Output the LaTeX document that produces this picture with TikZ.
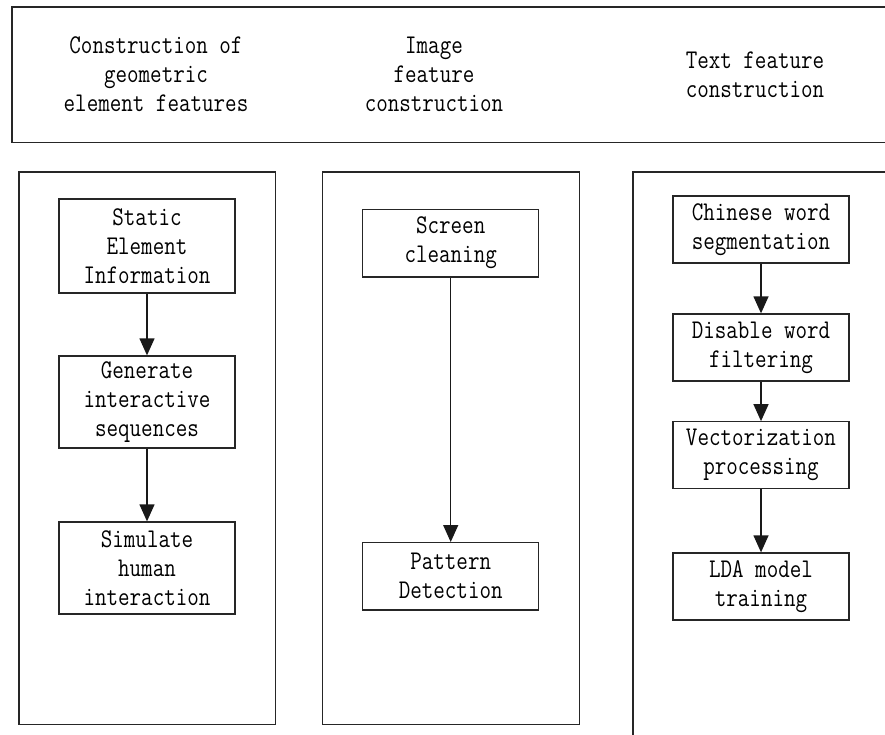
\documentclass[tikz,border=0pt]{standalone}
\usepackage{fontspec}
\newfontfamily\boxfont[FakeStretch=0.83]{Latin Modern Mono}
\usetikzlibrary{arrows.meta}
\begin{document}
\begin{tikzpicture}[x=1pt,y=-1pt,
  every node/.style={font=\boxfont\fontsize{27}{29}\selectfont, align=center, inner sep=0pt},
  frame/.style={line width=1.3pt, draw=black!85},
  stepbox/.style={draw=black!85, line width=1.3pt, minimum width=176pt, inner sep=0pt},
  flow/.style={line width=1.3pt, draw=black!90, -{Triangle[width=15pt,length=17pt]}}]
\useasboundingbox (0,0) rectangle (885,734);

% header strip with the three feature groups
\draw[frame] (886,7) -- (12,7) -- (12,142.5) -- (886,142.5);
\node (hgeo) at (156,74.5) {Construction of\\geometric\\element features};
\node (himg) at (434,74.5) {Image\\feature\\construction};
\node (htxt) at (755,74.5) {Text feature\\construction};

% column frames
\draw[frame] (19,172) rectangle (275.7,724.7);
\draw[frame] (322.7,172) rectangle (579.5,724.7);
\draw[frame] (886,172) -- (633,172) -- (633,740);

% geometric element features
\node[stepbox, minimum height=94pt] (static) at (147,246) {Static\\Element\\Information};
\node[stepbox, minimum height=92pt] (gen) at (147,402) {Generate\\interactive\\sequences};
\node[stepbox, minimum height=92pt] (sim) at (147,568) {Simulate\\human\\interaction};
\draw[flow] (static) -- (gen);
\draw[flow] (gen) -- (sim);

% image features
\node[stepbox, minimum height=67.7pt] (clean) at (450.7,243) {Screen\\cleaning};
\node[stepbox, minimum height=67.3pt] (pattern) at (450.7,576.3) {Pattern\\Detection};
\draw[flow] (clean) -- (pattern);

% text features
\node[stepbox, minimum height=67pt] (seg) at (761,229.5) {Chinese word\\segmentation};
\node[stepbox, minimum height=67pt] (filt) at (761,347.5) {Disable word\\filtering};
\node[stepbox, minimum height=67pt] (vec) at (761,455.3) {Vectorization\\processing};
\node[stepbox, minimum height=67pt] (lda) at (761,586.5) {LDA model\\training};
\draw[flow] (seg) -- (filt);
\draw[flow] (filt) -- (vec);
\draw[flow] (vec) -- (lda);
\end{tikzpicture}
\end{document}
